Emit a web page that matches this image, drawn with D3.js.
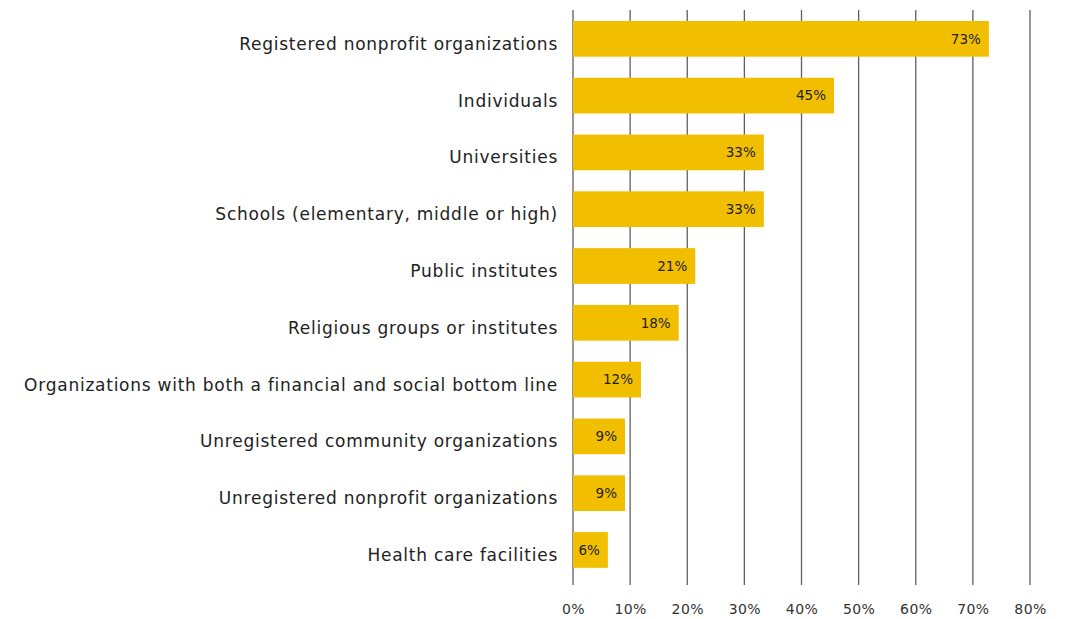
<!DOCTYPE html>
<html><head><meta charset="utf-8">
<script src="https://cdn.jsdelivr.net/npm/d3@7"></script>
<style>body{margin:0;background:#fff}svg{display:block}</style>
</head><body>
<svg id="c" width="1074" height="619"></svg>
<script>
const categories = [
  "Registered nonprofit organizations",
  "Individuals",
  "Universities",
  "Schools (elementary, middle or high)",
  "Public institutes",
  "Religious groups or institutes",
  "Organizations with both a financial and social bottom line",
  "Unregistered community organizations",
  "Unregistered nonprofit organizations",
  "Health care facilities"
];
const values = [72.8, 45.7, 33.4, 33.4, 21.4, 18.5, 11.9, 9.1, 9.1, 6.1];
const valueLabels = ["73%","45%","33%","33%","21%","18%","12%","9%","9%","6%"];
const ticks = [0,10,20,30,40,50,60,70,80];

const svg = d3.select("#c");
const font = "'DejaVu Sans', sans-serif";
const x = d3.scaleLinear().domain([0,80]).range([573,1030]);
const y = d3.scaleBand().domain(categories).range([10.4,578.4]).paddingInner(0.371).paddingOuter(0.186);

// grid
svg.append("g").selectAll("line").data(ticks).join("line")
  .attr("x1", d=>x(d)).attr("x2", d=>x(d)).attr("y1", 10).attr("y2", 585)
  .attr("stroke", "#5f5f5f").attr("stroke-width", 1.3);

// bars
svg.append("g").selectAll("rect").data(categories).join("rect")
  .attr("x", x(0)).attr("y", d=>y(d)).attr("height", y.bandwidth())
  .attr("width", (d,i)=>x(values[i])-x(0)).attr("fill", "#F2BE00");

// value labels
svg.append("g").selectAll("text").data(categories).join("text")
  .attr("x", (d,i)=>x(values[i])-8).attr("y", d=>y(d)+y.bandwidth()/2)
  .attr("dy","0.36em").attr("text-anchor","end")
  .attr("font-family", font).attr("font-size", 13.5).attr("fill","#222")
  .text((d,i)=>valueLabels[i]);

// category labels
svg.append("g").selectAll("text").data(categories).join("text")
  .attr("x", 558).attr("y", d=>y(d)+y.bandwidth()/2 + 11)
  .attr("text-anchor","end")
  .attr("font-family", font).attr("font-size", 17).attr("letter-spacing", 0.75).attr("fill","#222")
  .text(d=>d);

// x axis tick labels
const ax = svg.append("g").attr("transform","translate(0,614)")
  .call(d3.axisBottom(x).tickValues(ticks).tickFormat(d=>d+"%").tickSize(0));
ax.select(".domain").remove();
ax.selectAll("text").attr("font-family", font).attr("font-size", 14).attr("letter-spacing", 0.4).attr("fill","#333").attr("y",0).attr("dy","0");
</script>
</body></html>
